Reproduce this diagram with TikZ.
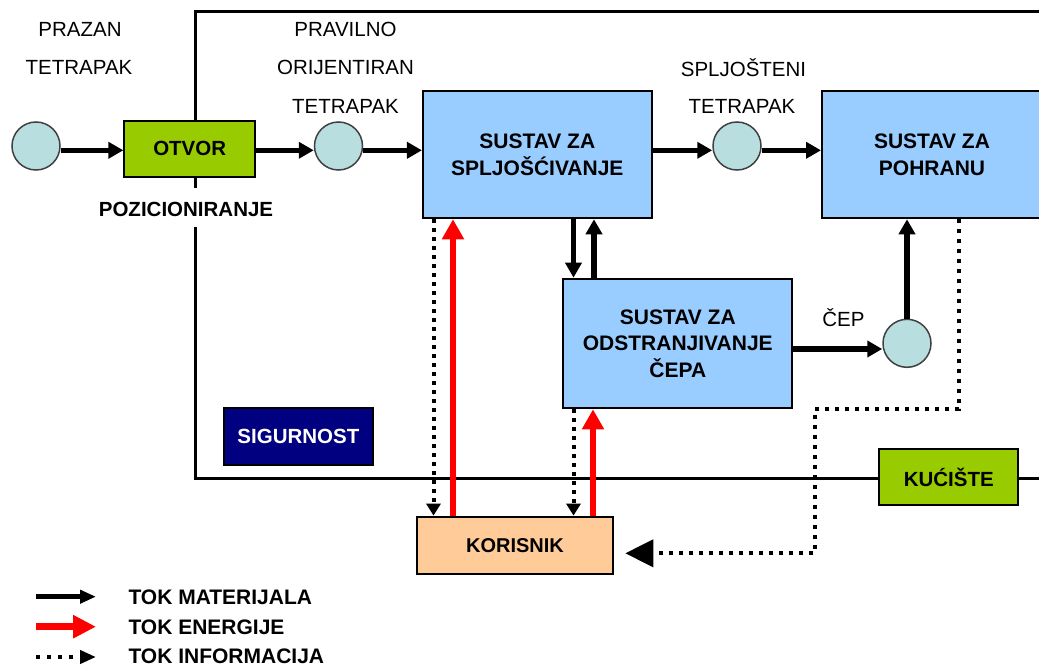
\documentclass[tikz,border=0pt]{standalone}
\usepackage{fontspec}
\setmainfont{Liberation Sans}
\usetikzlibrary{arrows.meta,calc}
\definecolor{boxblue}{HTML}{99CCFF}
\definecolor{boxgreen}{HTML}{99CC00}
\definecolor{boxorange}{HTML}{FFCC99}
\definecolor{boxnavy}{HTML}{000080}
\definecolor{circfill}{HTML}{B9DEE0}
\definecolor{circline}{HTML}{404040}
\begin{document}
\begin{tikzpicture}[x=1pt,y=-1pt,
  sysbox/.style={draw=black,line width=2pt,fill=boxblue,align=center,inner sep=0pt,
    font=\fontsize{21}{26.7}\selectfont\bfseries},
  gbox/.style={draw=black,line width=2pt,fill=boxgreen,inner sep=0pt,
    font=\fontsize{20.5}{24}\selectfont\bfseries},
  token/.style={circle,draw=circline,line width=1.5pt,fill=circfill,minimum size=48pt,inner sep=0pt},
  lbl/.style={anchor=base,inner sep=0pt,font=\fontsize{20.5}{24}\selectfont},
  leg/.style={anchor=base west,inner sep=0pt,font=\fontsize{21}{24}\selectfont\bfseries},
  mat/.style={line width=5.5pt,-{Triangle[length=15pt,width=16pt]}},
  ener/.style={draw=red,line width=5.5pt,-{Triangle[length=20pt,width=21pt]}},
  info/.style={line width=4pt,dash pattern=on 4pt off 5pt,-{Triangle[length=12pt,width=14pt]}},
  infobig/.style={line width=4pt,dash pattern=on 4pt off 6pt,-{Triangle[length=28pt,width=27pt]},shorten >=11pt},
  frame/.style={line width=3pt,line join=miter}
]
\useasboundingbox (0,0) rectangle (1039,666);

% housing frame
\draw[frame] (1045,11.5) -- (195.5,11.5) -- (195.5,478.3) -- (1045,478.3);

% circles (tetrapak states)
\node[token] (c1) at (36,146) {};
\node[token] (c2) at (338.5,146) {};
\node[token] (c3) at (737,146) {};
\node[token] (c4) at (907,343.3) {};

% boxes
\node[gbox,minimum width=130.7pt,minimum height=56pt] (otvor) at (189.7,148.7) {OTVOR};
\node[sysbox,minimum width=228.7pt,minimum height=127.3pt] (box1) at (537.3,154.6) {SUSTAV ZA\\SPLJOŠĆIVANJE};
\node[sysbox,minimum width=220pt,minimum height=127.3pt] (pohr) at (932,154.6) {SUSTAV ZA\\POHRANU};
\node[sysbox,minimum width=229pt,minimum height=129.6pt] (odstr) at (677.8,343.5) {SUSTAV ZA\\ODSTRANJIVANJE\\ČEPA};
\node[draw=black,line width=2pt,fill=boxorange,inner sep=0pt,minimum width=196.6pt,minimum height=57.3pt,
  font=\fontsize{20}{24}\selectfont\bfseries] (kor) at (515,545.3) {KORISNIK};
\node[draw=black,line width=2pt,fill=boxnavy,text=white,inner sep=0pt,minimum width=149pt,minimum height=56.7pt,
  font=\fontsize{20.5}{24}\selectfont\bfseries] (sig) at (298.4,436.7) {SIGURNOST};
\node[gbox,minimum width=139pt,minimum height=56pt] (kuc) at (948.8,477) {KUĆIŠTE};

% labels
\node[lbl] (l1) at (80,36.7) {PRAZAN};
\node[lbl] (l2) at (79,75) {TETRAPAK};
\node[lbl] (l3) at (345.5,36.7) {PRAVILNO};
\node[lbl] (l4) at (345.5,75) {ORIJENTIRAN};
\node[lbl] (l5) at (345.5,113.3) {TETRAPAK};
\node[lbl] (l6) at (743.5,76.7) {SPLJOŠTENI};
\node[lbl] (l7) at (742,113.3) {TETRAPAK};
\node[lbl] (l8) at (843.5,326.7) {ČEP};
\node[anchor=base,fill=white,inner ysep=0pt,inner xsep=3pt,text height=28.7pt,text depth=10.3pt,
  font=\fontsize{20.5}{24}\selectfont\bfseries] (poz) at (186,216.7) {POZICIONIRANJE};

% material flow
\coordinate (r1) at (0,150.3);
\draw[mat] (c1.east |- r1) -- (otvor.west |- r1);
\draw[mat] (otvor.east |- r1) -- (c2.west |- r1);
\draw[mat] (c2.east |- r1) -- (box1.west |- r1);
\draw[mat] (box1.east |- r1) -- (c3.west |- r1);
\draw[mat] (c3.east |- r1) -- (pohr.west |- r1);
\coordinate (xC) at (573.5,0);
\coordinate (xD) at (594,0);
\draw[mat] (box1.south -| xC) -- (odstr.north -| xC);
\draw[mat] (odstr.north -| xD) -- (box1.south -| xD);
\coordinate (r2) at (0,349);
\draw[mat] (odstr.east |- r2) -- (c4.west |- r2);
\draw[mat] (c4.north) -- (pohr.south -| c4.north);

% energy and information flow
\coordinate (xA) at (433.5,0);
\coordinate (xB) at (453,0);
\coordinate (xE) at (593,0);
\draw[info] (box1.south -| xA) -- (kor.north -| xA);
\draw[ener] (kor.north -| xB) -- (box1.south -| xB);
\draw[info] (odstr.south -| xC) -- (kor.north -| xC);
\draw[ener] (kor.north -| xE) -- (odstr.south -| xE);
\coordinate (p1) at (959.3,409.3);
\coordinate (p2) at (815,409.3);
\coordinate (p3) at (815,553.3);
\draw[infobig] (pohr.south -| p1) -- (p1) -- (p2) -- (p3) -- (kor.east |- p3);

% legend
\coordinate (a1) at (36,596.7); \coordinate (b1) at (96,596.7);
\coordinate (a2) at (36,626.7); \coordinate (b2) at (96,626.7);
\coordinate (a3) at (36,657); \coordinate (b3) at (96,657);
\draw[line width=5pt,-{Triangle[length=16pt,width=13pt]}] (a1) -- (b1);
\draw[draw=red,line width=7pt,-{Triangle[length=23pt,width=22pt]}] (a2) -- (b2);
\draw[line width=4pt,dash pattern=on 4pt off 7pt,-{Triangle[length=16pt,width=13pt]}] (a3) -- (b3);
\node[leg] (t1) at (128.3,604.3) {TOK MATERIJALA};
\node[leg] (t2) at (128.3,634.3) {TOK ENERGIJE};
\node[leg] (t3) at (128.3,663) {TOK INFORMACIJA};
\end{tikzpicture}
\end{document}
